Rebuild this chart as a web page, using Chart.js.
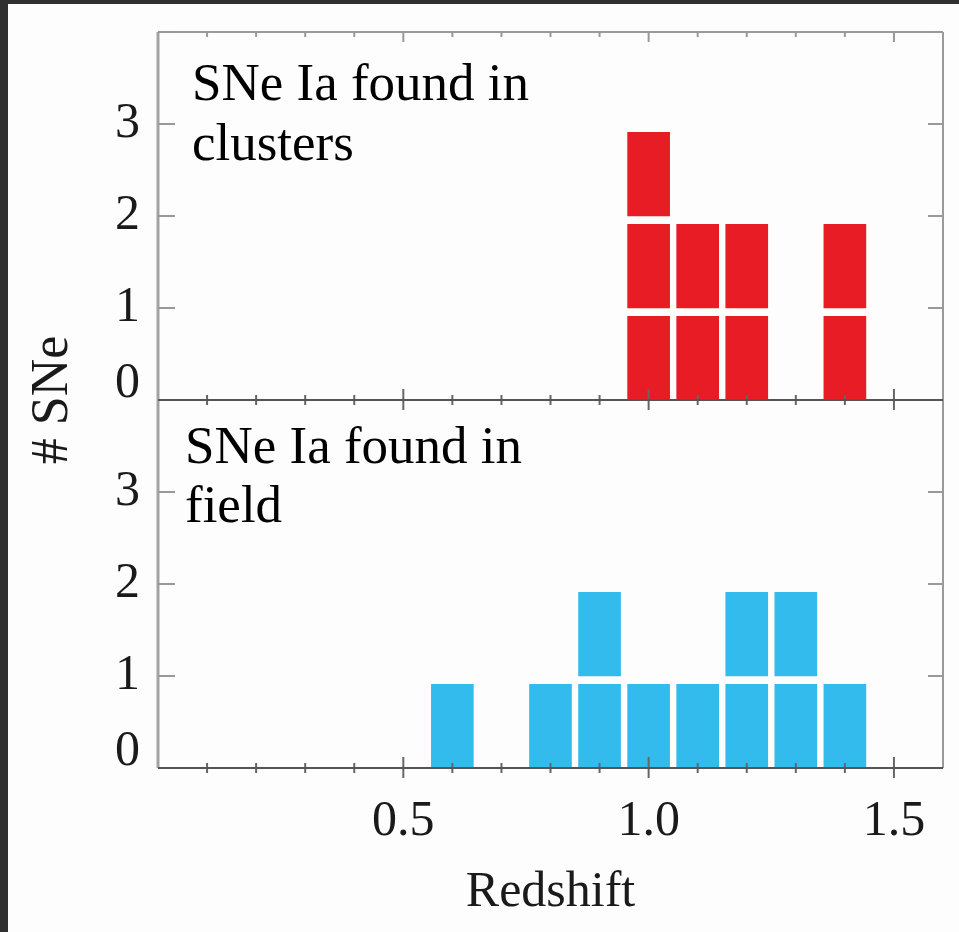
<!DOCTYPE html>
<html>
<head>
<meta charset="utf-8">
<script src="https://cdn.jsdelivr.net/npm/chart.js@4.4.1/dist/chart.umd.min.js"></script>
<style>
  html, body { margin: 0; padding: 0; background: #303030; overflow: hidden; }
  #wrap { position: absolute; left: 8px; top: 4px; width: 951px; height: 928px; background: #fdfdfd; }
</style>
</head>
<body>
<div id="wrap"><canvas id="snChart"></canvas></div>
<script>
// redshift bins (centres) and number of SNe Ia per bin
const bins = [0.6, 0.7, 0.8, 0.9, 1.0, 1.1, 1.2, 1.3, 1.4];
const clusterCounts = [0, 0, 0, 0, 3, 2, 2, 0, 2];
const fieldCounts = [1, 0, 1, 2, 1, 1, 2, 2, 1];
const xTicks = [0.5, 1.0, 1.5];
const yTicks = [0, 1, 2, 3];
const layers = [1, 2, 3];

const RED = 'rgb(232, 28, 36)';
const BLUE = 'rgb(52, 187, 237)';
const SERIF = "'Liberation Serif', 'Times New Roman', serif";

// each SN is drawn as its own block, so one dataset per stacked layer
function blockSets(counts, axis, color) {
  return layers.map(k => ({
    data: bins.map((z, i) => ({ x: z, y: counts[i] >= k ? [k - 1, k - 0.09] : null })),
    yAxisID: axis,
    backgroundColor: color,
    borderWidth: 0,
    barThickness: 42,
    grouped: false
  }));
}

function yAxis() {
  return {
    type: 'linear',
    position: 'left',
    stack: 'sn',
    stackWeight: 1,
    min: 0,
    max: 4,
    grid: { display: false, drawTicks: false },
    border: { display: false },
    afterBuildTicks: s => { s.ticks = yTicks.map(v => ({ value: v })); },
    afterFit: s => { s.width = 150; s.paddingTop = 0; s.paddingBottom = 0; },
    ticks: {
      padding: 18,
      color: '#1a1a1a',
      font: c => ({ family: SERIF, size: 50, lineHeight: (c.tick && c.tick.value === 0) ? 0.64 : 1.2 }),
      callback: v => v === 0 ? ['0', ''] : String(v)
    }
  };
}

const frame = {
  id: 'frame',
  afterDatasetsDraw(chart) {
    const { ctx, chartArea: a, scales } = chart;
    const x = scales.x;
    const seg = (x1, y1, x2, y2, col, w) => {
      ctx.strokeStyle = col; ctx.lineWidth = w;
      ctx.beginPath(); ctx.moveTo(x1, y1); ctx.lineTo(x2, y2); ctx.stroke();
    };
    ctx.save();
    [scales.yTop, scales.yBot].forEach(y => {
      seg(a.left, y.top, a.left, y.bottom, '#a3a3a3', 3);
      seg(a.right, y.top, a.right, y.bottom, '#9a9a9a', 2);
      seg(a.left, y.top, a.right, y.top, '#9a9a9a', 2);
      // y ticks, inward on both sides
      for (let v = 1; v <= 4; v++) {
        const py = y.getPixelForValue(v);
        seg(a.left, py, a.left + 17, py, '#999', 2);
        seg(a.right - 15, py, a.right, py, '#999', 2);
      }
      // x ticks crossing the bottom edge of each panel
      for (let t = 1; t <= 15; t++) {
        const px = x.getPixelForValue(t / 10);
        const major = t % 5 === 0;
        seg(px, y.bottom - (major ? 11 : 5), px, y.bottom + (major ? 10 : 5), '#666', 2);
        if (y === scales.yTop) seg(px, y.top, px, y.top + (major ? 10 : 5), '#999', 2);
      }
    });
    seg(a.left, scales.yTop.bottom, a.right, scales.yTop.bottom, '#555', 2);
    seg(a.left, scales.yBot.bottom, a.right, scales.yBot.bottom, '#555', 2);

    // panel labels
    ctx.fillStyle = '#000';
    ctx.font = '53px ' + SERIF;
    ctx.textAlign = 'left';
    ctx.textBaseline = 'alphabetic';
    ctx.fillText('SNe Ia found in', a.left + 34, scales.yTop.top + 68);
    ctx.fillText('clusters', a.left + 34, scales.yTop.top + 128);
    ctx.fillText('SNe Ia found in', a.left + 27, scales.yBot.top + 63);
    ctx.fillText('field', a.left + 27, scales.yBot.top + 122);

    // shared y title
    ctx.font = '52px ' + SERIF;
    ctx.fillStyle = '#1a1a1a';
    ctx.translate(45, scales.yTop.bottom);
    ctx.rotate(-Math.PI / 2);
    ctx.textAlign = 'center';
    ctx.textBaseline = 'middle';
    ctx.fillText('# SNe', 0, 0);
    ctx.restore();
  }
};

new Chart(document.getElementById('snChart'), {
  type: 'bar',
  data: {
    datasets: [
      ...blockSets(clusterCounts, 'yTop', RED),
      ...blockSets(fieldCounts, 'yBot', BLUE)
    ]
  },
  options: {
    responsive: true,
    maintainAspectRatio: false,
    animation: false,
    layout: { padding: { top: 28, right: 16, left: 0, bottom: 0 } },
    plugins: { legend: { display: false }, tooltip: { enabled: false } },
    scales: {
      x: {
        type: 'linear',
        min: 0,
        max: 1.6,
        offset: false,
        grid: { display: false, drawTicks: false },
        border: { display: false },
        afterBuildTicks: s => { s.ticks = xTicks.map(v => ({ value: v })); },
        afterFit: s => { s.height = 164; },
        ticks: {
          padding: 24,
          color: '#1a1a1a',
          maxRotation: 0,
          autoSkip: false,
          font: { family: SERIF, size: 50 },
          callback: v => Number(v).toFixed(1)
        },
        title: {
          display: true,
          text: 'Redshift',
          color: '#1a1a1a',
          font: { family: SERIF, size: 50 },
          padding: { top: 0, bottom: 9 }
        }
      },
      // stacked axes are laid out bottom-up, so the lower panel comes first
      yBot: yAxis(),
      yTop: yAxis()
    }
  },
  plugins: [frame]
});
</script>
</body>
</html>
